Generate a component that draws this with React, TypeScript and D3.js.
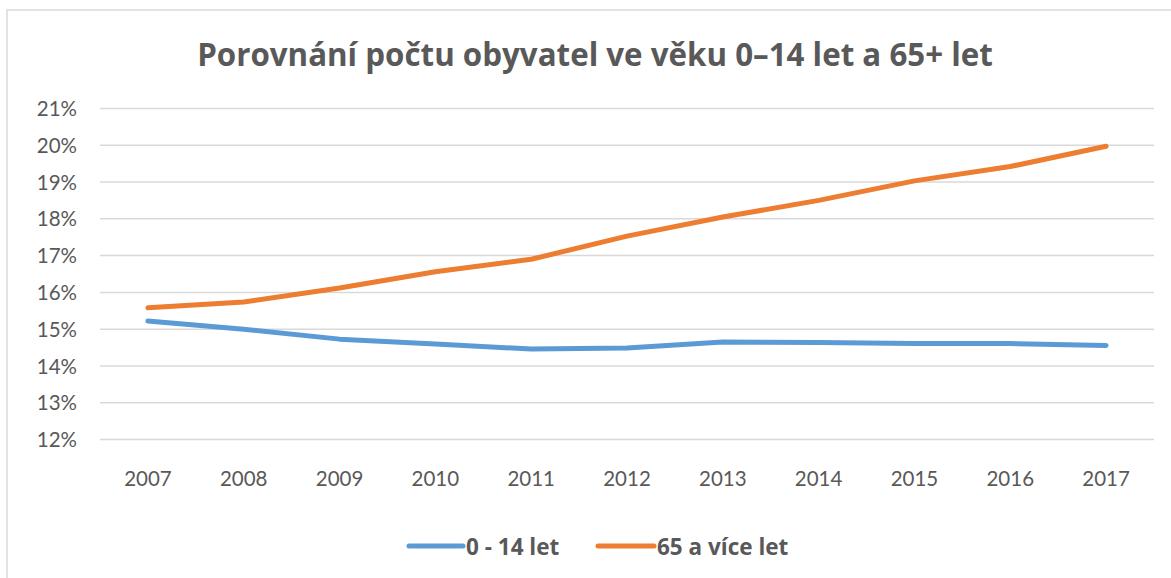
import React from "react";
import * as d3 from "d3";

const years = ["2007", "2008", "2009", "2010", "2011", "2012", "2013", "2014", "2015", "2016", "2017"];
const kids = [15.22, 15.0, 14.73, 14.6, 14.46, 14.49, 14.65, 14.64, 14.61, 14.61, 14.56];
const seniors = [15.58, 15.74, 16.12, 16.56, 16.9, 17.53, 18.05, 18.5, 19.03, 19.42, 19.97];
const yTicks = [12, 13, 14, 15, 16, 17, 18, 19, 20, 21];
const seriesNames = ["0 - 14 let", "65 a více let"];
const colors = ["#5b9bd5", "#ed7d31"];
const title = "Porovnání počtu obyvatel ve věku 0–14 let a 65+ let";

const W = 1171;
const H = 578;
const FONT = "Lato, 'Open Sans', sans-serif";
const BOLD_FONT = "'Open Sans', Lato, sans-serif";
const TEXT = "#595959";

export default function App() {
  const x = d3.scaleBand<string>().domain(years).range([100, 1154]);
  const y = d3.scaleLinear().domain([12, 21]).range([439.6, 108.4]);
  const line = d3
    .line<number>()
    .x((_, i) => (x(years[i]) as number) + x.bandwidth() / 2)
    .y((d) => y(d));
  const series = [kids, seniors];

  const legendItems = [
    { x1: 409, x2: 463, tx: 466 },
    { x1: 598, x2: 654, tx: 657 },
  ];

  return (
    <svg
      width={W}
      height={H}
      style={{ position: "absolute", left: 0, top: 0, background: "#fff" }}
      fontFamily={FONT}
    >
      <rect x={7} y={10} width={W + 20} height={H + 20} fill="#fff" stroke="#d9d9d9" strokeWidth={1.5} />
      <text x={595} y={66} textAnchor="middle" fontSize={31.3} fontWeight={700} fill={TEXT} fontFamily={BOLD_FONT}>
        {title}
      </text>
      {yTicks.map((t) => (
        <g key={t}>
          <line x1={100} x2={1154} y1={y(t)} y2={y(t)} stroke="#d9d9d9" strokeWidth={1.5} />
          <text x={77} y={y(t) + 7.5} textAnchor="end" fontSize={20.5} fill={TEXT}>
            {t}%
          </text>
        </g>
      ))}
      {years.map((yr) => (
        <text
          key={yr}
          x={(x(yr) as number) + x.bandwidth() / 2}
          y={486}
          textAnchor="middle"
          fontSize={20.5}
          fill={TEXT}
        >
          {yr}
        </text>
      ))}
      {series.map((s, i) => (
        <path
          key={i}
          d={line(s) as string}
          fill="none"
          stroke={colors[i]}
          strokeWidth={5}
          strokeLinecap="round"
          strokeLinejoin="round"
        />
      ))}
      {legendItems.map((l, i) => (
        <g key={i}>
          <line x1={l.x1} x2={l.x2} y1={546} y2={546} stroke={colors[i]} strokeWidth={5} strokeLinecap="round" />
          <text x={l.tx} y={554.5} fontSize={22.5} fontWeight={700} fill={TEXT} fontFamily={BOLD_FONT}>
            {seriesNames[i]}
          </text>
        </g>
      ))}
    </svg>
  );
}
